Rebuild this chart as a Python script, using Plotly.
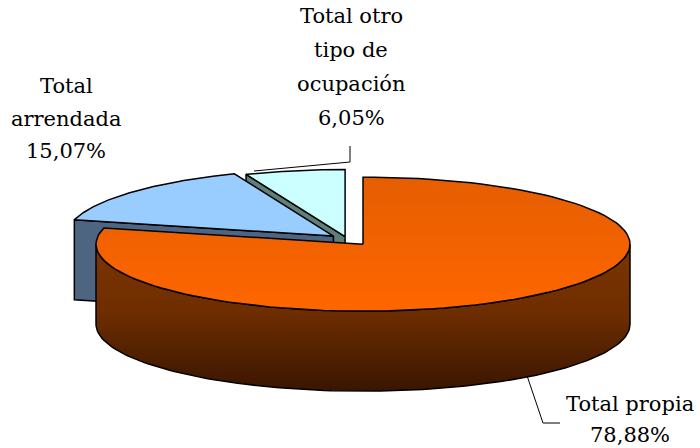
import numpy as np
import plotly.graph_objects as go

# ---- data ----
labels = ["Total propia", "Total<br>arrendada", "Total otro<br>tipo de<br>ocupación"]
values = [78.88, 15.07, 6.05]
value_text = ["78,88%", "15,07%", "6,05%"]

# ---- styling ----
top_colors = [("#e55e00", "#ff6600"), ("#99ccff", "#99ccff"), ("#ccffff", "#ccffff")]
side_colors = ["#7a3300", "#4d6580", "#5f7f7a"]
wall_scale = [[0, "#7d3400"], [0.45, "#6f2e00"], [1, "#3a1500"]]
explode = [26, 18, 10]
CX, CY = 347, 239
RX, RY = 267, 67
DEPTH = 80
START = 90.0
label_pos = [(630, 411), (66, 93), (351, 23)]
line_step = [31, 32.5, 34]
FONT = dict(family="DejaVu Serif", size=21, color="black")
leader_pts = [[(543, 423), (560, 423)], None, [(350, 146), (350, 162), (254, 171)]]

fig = go.Figure()
OUT = dict(color="black", width=1.5)


def arc(cx, cy, a_from, a_to, dz=0, n=120):
    t = np.radians(np.linspace(a_from, a_to, n))
    return cx + RX * np.cos(t), cy - RY * np.sin(t) + dz


total = sum(values)
slices = []
a0 = START
for i, v in enumerate(values):
    a1 = a0 - 360.0 * v / total
    mid = np.radians((a0 + a1) / 2)
    cx = CX + explode[i] * np.cos(mid)
    cy = CY - explode[i] * np.sin(mid) * RY / RX
    slices.append(dict(i=i, a0=a0, a1=a1, mid=mid, cx=cx, cy=cy))
    a0 = a1

# paint back to front
order = sorted(slices, key=lambda s: -np.sin(s["mid"]))
for s in order:
    i, a0, a1, cx, cy = s["i"], s["a0"], s["a1"], s["cx"], s["cy"]
    # radial faces
    for ang, nrm in ((a0, a0 + 90), (a1, a1 - 90)):
        if np.sin(np.radians(nrm)) < -1e-6:
            rx_, ry_ = arc(cx, cy, ang, ang, n=1)
            xs = [cx, rx_[0], rx_[0], cx, cx]
            ys = [cy, ry_[0], ry_[0] + DEPTH, cy + DEPTH, cy]
            fig.add_trace(go.Scatter(x=xs, y=ys, mode="lines", fill="toself",
                                     fillcolor=side_colors[i], line=OUT,
                                     hoverinfo="skip", showlegend=False))
    # outer front wall
    for k in range(-2, 2):
        lo = max(a1, -180 + 360 * k)
        hi = min(a0, 0 + 360 * k)
        if lo < hi:
            tx, ty = arc(cx, cy, lo, hi)
            bx, by = arc(cx, cy, hi, lo, dz=DEPTH)
            xs = np.concatenate([tx, bx, tx[:1]])
            ys = np.concatenate([ty, by, ty[:1]])
            fig.add_trace(go.Scatter(
                x=xs, y=ys, mode="lines", fill="toself", line=OUT,
                fillgradient=dict(type="vertical", colorscale=wall_scale,
                                  start=cy, stop=cy + RY + DEPTH),
                hoverinfo="skip", showlegend=False))
    # top face
    tx, ty = arc(cx, cy, a0, a1)
    xs = np.concatenate([[cx], tx, [cx]])
    ys = np.concatenate([[cy], ty, [cy]])
    c0, c1 = top_colors[i]
    fig.add_trace(go.Scatter(
        x=xs, y=ys, mode="lines", fill="toself", line=OUT,
        fillgradient=dict(type="vertical", colorscale=[[0, c0], [1, c1]],
                          start=cy - RY, stop=cy + RY),
        hoverinfo="skip", showlegend=False))

# leader lines
for s in slices:
    pts = leader_pts[s["i"]]
    if pts is None:
        continue
    if np.sin(s["mid"]) < 0:
        mx, my = arc(s["cx"], s["cy"], np.degrees(s["mid"]), np.degrees(s["mid"]), dz=DEPTH, n=1)
        xs = [mx[0]] + [p[0] for p in pts]
        ys = [my[0]] + [p[1] for p in pts]
    else:
        xs = [p[0] for p in pts]
        ys = [p[1] for p in pts]
    fig.add_trace(go.Scatter(x=xs, y=ys, mode="lines",
                             line=dict(color="black", width=1),
                             hoverinfo="skip", showlegend=False))

# labels
for i, lab in enumerate(labels):
    lines = lab.split("<br>") + [value_text[i]]
    x0, y0 = label_pos[i]
    for j, ln in enumerate(lines):
        fig.add_annotation(x=x0, y=y0 + j * line_step[i] - 7, text=ln, showarrow=False,
                           xanchor="center", yanchor="middle", font=FONT, borderpad=0)

W, H = 700, 448
fig.update_layout(
    width=W, height=H,
    margin=dict(l=0, r=0, t=0, b=0),
    paper_bgcolor="white", plot_bgcolor="white",
    xaxis=dict(range=[0, W], visible=False, fixedrange=True),
    yaxis=dict(range=[H, 0], visible=False, fixedrange=True),
    showlegend=False,
)
fig.write_html("out.html", post_script="document.body.style.margin='0';",
               config={"displayModeBar": False})
